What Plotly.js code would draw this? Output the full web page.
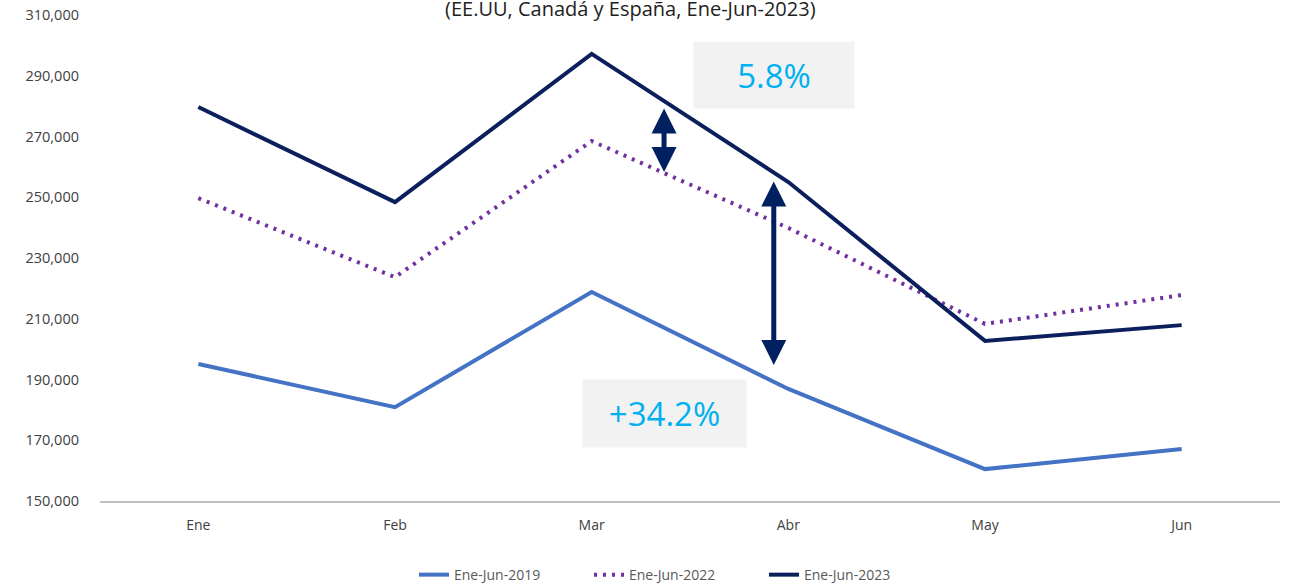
<!DOCTYPE html>
<html>
<head>
<meta charset="utf-8">
<script src="https://cdn.plot.ly/plotly-3.0.1.min.js"></script>
<style>html,body{margin:0;padding:0;background:#fff;}#chart{width:1289px;height:585px;}</style>
</head>
<body>
<div id="chart"></div>
<script>
const months = ["Ene", "Feb", "Mar", "Abr", "May", "Jun"];
const seriesNames = ["Ene-Jun-2019", "Ene-Jun-2022", "Ene-Jun-2023"];
const values2019 = [195100, 180900, 218800, 186900, 160500, 167100];
const values2022 = [249700, 223700, 268500, 239900, 208300, 217800];
const values2023 = [279700, 248400, 297200, 255000, 202700, 207900];
const yTicks = [150000, 170000, 190000, 210000, 230000, 250000, 270000, 290000, 310000];
const titleText = "(EE.UU, Canadá y España, Ene-Jun-2023)";
const labelA = "5.8%";
const labelB = "+34.2%";

const font = "'Open Sans', 'Liberation Sans', sans-serif";
const navy = "#0B1F5C";

const traces = [
  {x: months, y: values2019, name: seriesNames[0], type: "scatter", mode: "lines",
   line: {color: "#4472C4", width: 4}},
  {x: months, y: values2022, name: seriesNames[1], type: "scatter", mode: "lines",
   line: {color: "#7030A0", width: 4, dash: "3px,6px"}},
  {x: months, y: values2023, name: seriesNames[2], type: "scatter", mode: "lines",
   line: {color: navy, width: 4}}
];

const arrowCommon = {
  xref: "x", yref: "y", axref: "x", ayref: "y", text: "", showarrow: true,
  arrowhead: 2, startarrowhead: 2, arrowside: "end+start", arrowwidth: 5,
  arrowsize: 1, startarrowsize: 1, arrowcolor: "#002060", standoff: 0, startstandoff: 0
};

const layout = {
  width: 1289, height: 585,
  margin: {l: 100, r: 9, t: 15, b: 84},
  paper_bgcolor: "#ffffff", plot_bgcolor: "#ffffff",
  font: {family: font, color: "#595959", size: 14},
  title: {text: titleText, xref: "container", yref: "container", x: 0.489, y: 0.997,
          xanchor: "center", yanchor: "top", font: {family: font, size: 20, color: "#222222"}},
  xaxis: {range: [-0.5, 5.5], showgrid: false, zeroline: false, showline: true,
          linecolor: "#BFBFBF", linewidth: 2, ticks: "", ticklabelstandoff: 10,
          tickfont: {size: 14, color: "#404040"}, fixedrange: true},
  yaxis: {range: [150000, 310000], tickvals: yTicks, tickformat: ",d", showgrid: false,
          zeroline: false, showline: false, ticks: "", ticklabelstandoff: 20,
          tickfont: {size: 14.5, color: "#404040"}, fixedrange: true},
  showlegend: true,
  legend: {orientation: "h", xref: "container", yref: "container", x: 414 / 1289, y: 0.017,
           xanchor: "left", yanchor: "middle", font: {size: 14, color: "#595959"},
           entrywidth: 130, entrywidthmode: "pixels"},
  annotations: [
    Object.assign({}, arrowCommon, {x: 2.368, y: 258300, ax: 2.368, ay: 279700}),
    Object.assign({}, arrowCommon, {x: 2.926, y: 194800, ax: 2.926, ay: 255700}),
    {xref: "x", yref: "y", x: 2.926, y: 290250, text: labelA, showarrow: false,
     bgcolor: "#F2F2F2", width: 158, height: 64, font: {family: font, size: 33, color: "#00B0F0"}},
    {xref: "x", yref: "y", x: 2.368, y: 178970, text: labelB, showarrow: false,
     bgcolor: "#F2F2F2", width: 161, height: 65, font: {family: font, size: 33, color: "#00B0F0"}}
  ]
};

Plotly.newPlot("chart", traces, layout, {displayModeBar: false, staticPlot: true});
</script>
</body>
</html>
